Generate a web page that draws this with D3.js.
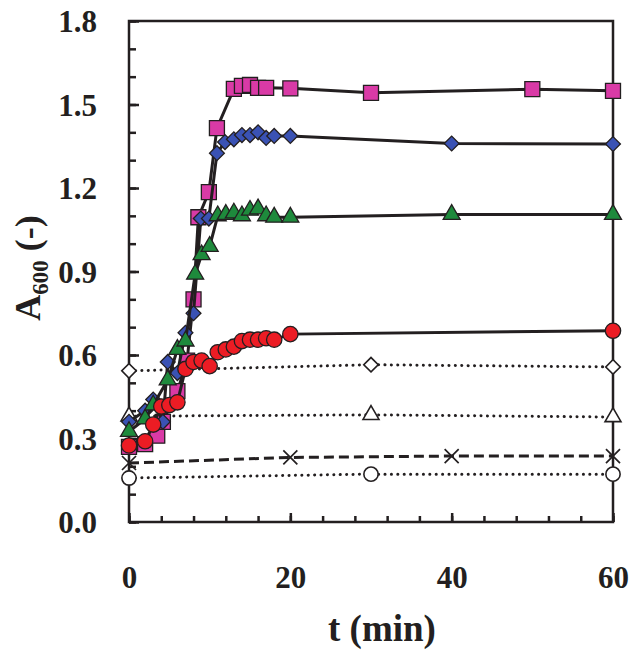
<!DOCTYPE html>
<html>
<head>
<meta charset="utf-8">
<script src="https://cdnjs.cloudflare.com/ajax/libs/d3/7.8.5/d3.min.js"></script>
<style>
  html, body { margin: 0; padding: 0; background: #fff; }
  text { font-family: "Liberation Serif", "Times New Roman", serif; font-weight: bold; fill: #231f20; }
</style>
</head>
<body>
<div id="chart"></div>
<script>
// time (min) and A600 values
const pinkT = [0, 2, 3.5, 4.2, 6, 7.2, 8, 8.6, 9.9, 10.9, 13, 14, 15, 16, 17, 20, 30, 50, 60];
const pinkA = [0.27, 0.28, 0.31, 0.36, 0.47, 0.58, 0.80, 1.095, 1.185, 1.415, 1.556, 1.567, 1.57, 1.56, 1.56, 1.558, 1.542, 1.555, 1.549];

const blueT = [0, 2, 3, 4.2, 4.8, 6, 7, 8, 8.9, 9.9, 10.9, 11.9, 13, 14, 15, 16, 17, 18, 20, 40, 60];
const blueA = [0.36, 0.40, 0.44, 0.36, 0.575, 0.535, 0.68, 0.75, 1.09, 1.09, 1.325, 1.365, 1.375, 1.39, 1.39, 1.40, 1.38, 1.387, 1.387, 1.36, 1.358];

const greenT = [0, 2, 3, 4.8, 6, 7, 8.2, 9, 10, 11, 12, 13, 14, 15, 16, 17, 18, 20, 40, 60];
const greenA = [0.325, 0.37, 0.42, 0.51, 0.62, 0.65, 0.89, 0.96, 0.99, 1.10, 1.105, 1.11, 1.10, 1.12, 1.125, 1.10, 1.095, 1.095, 1.105, 1.105];

const redT = [0, 2, 3, 4, 5, 6, 7, 8, 9, 10, 11, 12, 13, 14, 15, 16, 17, 18, 20, 60];
const redA = [0.275, 0.29, 0.35, 0.415, 0.42, 0.43, 0.55, 0.575, 0.58, 0.56, 0.61, 0.62, 0.63, 0.65, 0.655, 0.655, 0.66, 0.655, 0.675, 0.687];

const openDiamT = [0, 30, 60];
const openDiamA = [0.543, 0.565, 0.557];
const openTriT = [0, 30, 60];
const openTriA = [0.38, 0.385, 0.377];
const crossT = [0, 20, 40, 60];
const crossA = [0.212, 0.232, 0.237, 0.237];
const openCircT = [0, 30, 60];
const openCircA = [0.158, 0.172, 0.172];

const xTicksMajor = [0, 20, 40, 60];
const yTicksMajor = [0, 0.3, 0.6, 0.9, 1.2, 1.5, 1.8];

(function () {
    const W = 644, H = 652;
    const left = 129, right = 613, top = 21, bottom = 522;
    const ink = "#231f20";

    const x = d3.scaleLinear().domain([0, 60]).range([left, right]);
    const y = d3.scaleLinear().domain([0, 1.8]).range([bottom, top]);

    const svg = d3.select("#chart").append("svg")
        .attr("width", W).attr("height", H);

    const zip = (ts, as) => ts.map((t, i) => ({ t: t, a: as[i] }));

    // frame
    svg.append("rect")
        .attr("x", left).attr("y", top)
        .attr("width", right - left).attr("height", bottom - top)
        .attr("fill", "none").attr("stroke", ink).attr("stroke-width", 2.5);

    // minor ticks
    const yMinor = d3.range(0, 19).map(i => i / 10);
    const xMinor = d3.range(0, 16).map(i => i * 4);

    const gyMinor = svg.append("g").attr("transform", `translate(${left},0)`)
        .call(d3.axisLeft(y).tickValues(yMinor).tickSize(-7).tickFormat(""));
    const gyMajor = svg.append("g").attr("transform", `translate(${left},0)`)
        .call(d3.axisLeft(y).tickValues(yTicksMajor).tickSize(-10).tickPadding(32)
            .tickFormat(d3.format(".1f")));
    const gxMinor = svg.append("g").attr("transform", `translate(0,${bottom})`)
        .call(d3.axisBottom(x).tickValues(xMinor).tickSize(-6).tickFormat(""));
    const gxMajor = svg.append("g").attr("transform", `translate(0,${bottom})`)
        .call(d3.axisBottom(x).tickValues(xTicksMajor).tickSize(-9).tickPadding(44)
            .tickFormat(d3.format("d")));

    [gyMinor, gyMajor, gxMinor, gxMajor].forEach(g => {
        g.select(".domain").remove();
        g.selectAll("line").attr("stroke", ink).attr("stroke-width", 2.5);
        g.selectAll("text").style("font-size", "31px").attr("fill", ink)
            .style("font-family", "'Liberation Serif', serif").style("font-weight", "bold");
    });
    gyMajor.selectAll("text").attr("dy", "0.34em");

    // axis titles
    svg.append("text")
        .attr("x", 382).attr("y", 641)
        .attr("text-anchor", "middle")
        .style("font-size", "37px")
        .text("t (min)");

    const yt = svg.append("text")
        .attr("transform", "translate(40,268) rotate(-90)")
        .attr("text-anchor", "middle")
        .style("font-size", "36px");
    yt.append("tspan").text("A");
    yt.append("tspan").attr("dy", 8).style("font-size", "23px").text("600");
    yt.append("tspan").attr("dy", -8).text(" (-)");

    const line = d3.line().x(d => x(d.t)).y(d => y(d.a));

    function series(ts, as, opts) {
        const data = zip(ts, as);
        svg.append("path").datum(data)
            .attr("fill", "none")
            .attr("stroke", ink)
            .attr("stroke-width", opts.lw)
            .attr("stroke-dasharray", opts.dash || null)
            .attr("stroke-linecap", opts.cap || "butt")
            .attr("d", line);
        svg.append("g").selectAll("path")
            .data(data)
            .join("path")
            .attr("transform", d => `translate(${x(d.t)},${y(d.a)}) rotate(${opts.rot || 0})`)
            .attr("d", d3.symbol().type(opts.sym).size(opts.size))
            .attr("fill", opts.fill)
            .attr("stroke", ink)
            .attr("stroke-width", opts.sw || 1.3);
    }

    // open-marker controls
    series(openCircT, openCircA, { sym: d3.symbolCircle, size: 160, fill: "#fff", lw: 3, dash: "0.1 6.3", cap: "round", sw: 1.6 });
    series(crossT, crossA, { sym: d3.symbolX, size: 130, fill: "none", lw: 3, dash: "10 5", sw: 1.7 });
    series(openTriT, openTriA, { sym: d3.symbolTriangle, size: 110, fill: "#fff", lw: 3, dash: "0.1 6.3", cap: "round", sw: 1.6 });
    series(openDiamT, openDiamA, { sym: d3.symbolSquare, size: 105, rot: 45, fill: "#fff", lw: 3, dash: "0.1 6.3", cap: "round", sw: 1.6 });

    // filled series
    series(pinkT, pinkA, { sym: d3.symbolSquare, size: 225, fill: "#d93aa6", lw: 3 });
    series(blueT, blueA, { sym: d3.symbolSquare, size: 110, rot: 45, fill: "#3a52b4", lw: 3 });
    series(greenT, greenA, { sym: d3.symbolTriangle, size: 125, fill: "#1e8a3c", lw: 3 });
    series(redT, redA, { sym: d3.symbolCircle, size: 185, fill: "#ec1c24", lw: 3 });
})();
</script>
</body>
</html>
